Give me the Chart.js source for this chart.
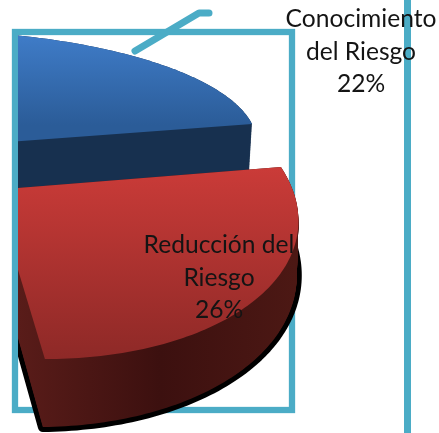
<!DOCTYPE html>
<html><head><meta charset="utf-8">
<style>html,body{margin:0;padding:0;background:#fff}canvas{display:block}</style>
<script src="https://cdn.jsdelivr.net/npm/chart.js@4"></script>
</head><body><canvas id="c" width="439" height="433"></canvas>
<script>
const categories=[["Conocimiento","del Riesgo"],["Reducción del","Riesgo"],["Otros"]];
const values=[22,26,52];
const frameColor="#4bacc6";
const views=[
 {c:[-20,144],m:[327,67.3,-24,109.2],p:[.202,.0415],h:[52,-3,0],dx:-.06,shadow:false,
  top:[[35,"#3f7cc8"],[125,"#2b5c98"]],wall:[[18,"#17304f"],[250,"#17304f"]]},
 {c:[-6,190],m:[267.5,62,-21.4,148.6],p:[-.0678,-.119],h:[55.7,-5.1,12],dx:-.03,shadow:true,
  top:[[168,"#ca3b38"],[358,"#8e2927"]],wall:[[18,"#591c19"],[160,"#3c100f"],[295,"#4c1814"]]},
 null
];
const labelSpots=[{x:361,y:27},{x:219,y:253},null];
const lineGap=32.5;

function project(v,a,r,t){
 const u=r*Math.cos(a),s=r*Math.sin(a),w=1+v.p[0]*u+v.p[1]*s;
 const off=t*(v.h[0]+v.h[1]*u+v.h[2]*s);
 return [v.c[0]+(v.m[0]*u+v.m[1]*s)/w+off*v.dx, v.c[1]+(v.m[2]*u+v.m[3]*s)/w+off];
}
function sector(ctx,v,a0,a1,t){
 ctx.beginPath();
 let q=project(v,0,0,t);ctx.moveTo(q[0],q[1]);
 const n=90;
 for(let i=0;i<=n;i++){q=project(v,a0+(a1-a0)*i/n,1,t);ctx.lineTo(q[0],q[1]);}
 ctx.closePath();
}
function grad(ctx,stops,horizontal){
 const a=stops[0][0],b=stops[stops.length-1][0];
 const g=horizontal?ctx.createLinearGradient(a,0,b,0):ctx.createLinearGradient(0,a,0,b);
 stops.forEach(s=>g.addColorStop((s[0]-a)/(b-a),s[1]));
 return g;
}
const pie3d={
 id:"pie3d",
 beforeDatasetDraw(chart,args){
  const ctx=chart.ctx,W=chart.width,H=chart.height,arcs=chart.getDatasetMeta(args.index).data;
  ctx.save();
  ctx.strokeStyle=frameColor;ctx.lineWidth=6.3;ctx.strokeRect(15,32,277,378);
  ctx.lineWidth=7;ctx.beginPath();ctx.moveTo(407.5,0);ctx.lineTo(407.5,H);ctx.stroke();
  ctx.lineCap="round";ctx.lineJoin="round";
  ctx.beginPath();ctx.moveTo(135,51);ctx.lineTo(199,13);ctx.lineTo(209,13);ctx.stroke();
  ctx.beginPath();ctx.rect(18,0,W-18,H);ctx.clip();
  arcs.forEach((arc,i)=>{
   const v=views[i];if(!v)return;
   const {startAngle:a0,endAngle:a1}=arc.getProps(["startAngle","endAngle"],true);
   if(v.shadow){
    sector(ctx,v,a0,a1,1);
    ctx.save();ctx.translate(1,3);ctx.strokeStyle="#000";ctx.fillStyle="#000";ctx.lineWidth=10;ctx.lineJoin="round";ctx.fill();ctx.stroke();ctx.restore();
   }
   ctx.fillStyle=grad(ctx,v.wall,true);
   for(let t=1;t>=0;t-=1/80){sector(ctx,v,a0,a1,t);ctx.fill();}
   ctx.fillStyle=grad(ctx,v.top,false);
   sector(ctx,v,a0,a1,0);ctx.fill();
  });
  ctx.restore();
  ctx.save();
  ctx.fillStyle="#141414";ctx.font='24.6px Lato, "Open Sans", sans-serif';ctx.textAlign="center";ctx.textBaseline="alphabetic";
  categories.forEach((lines,i)=>{
   const s=labelSpots[i];if(!s)return;
   lines.concat([values[i]+"%"]).forEach((t,k)=>ctx.fillText(t,s.x,s.y+k*lineGap));
  });
  ctx.restore();
  return false;
 }
};
new Chart(document.getElementById("c"),{
 type:"pie",
 data:{labels:categories,datasets:[{data:values,backgroundColor:["#3f7cc8","#ca3b38","#98b954"]}]},
 options:{responsive:false,animation:false,rotation:10.8,
  plugins:{legend:{display:false},tooltip:{enabled:false},title:{display:false}}},
 plugins:[pie3d]
});
</script></body></html>
